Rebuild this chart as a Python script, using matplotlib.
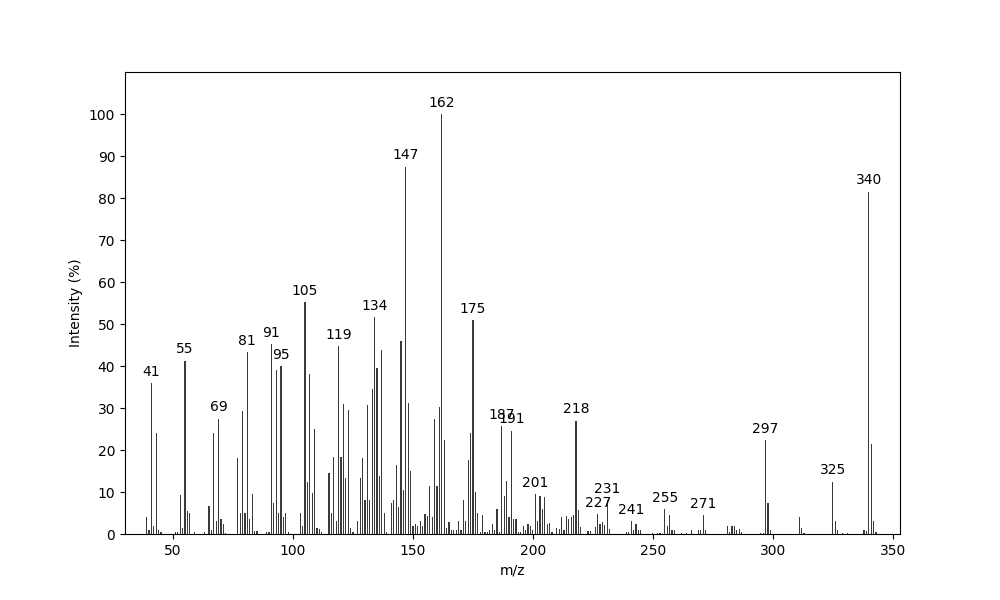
import matplotlib.pyplot as plt

# m/z and relative intensity (%)
mz = [39, 40, 41, 42, 43, 44, 45,
      51, 52, 53, 54, 55, 56, 57, 59, 63, 65, 66, 67, 68, 69, 70, 71, 72,
      77, 78, 79, 80, 81, 82, 83, 84, 85, 89, 90, 91, 92, 93, 94, 95, 96, 97, 98,
      103, 104, 105, 106, 107, 108, 109, 110, 111, 112,
      115, 116, 117, 118, 119, 120, 121, 122, 123, 124, 125,
      127, 128, 129, 130, 131, 132, 133, 134, 135, 136, 137, 138, 139,
      141, 142, 143, 144, 145, 146, 147, 148, 149, 150,
      151, 152, 153, 154, 155, 156, 157, 158, 159, 160, 161, 162, 163, 164,
      165, 166, 167, 168, 169, 170, 171, 172, 173, 174, 175, 176, 177, 178,
      179, 180, 181, 182, 183, 184, 185, 186, 187, 188, 189, 190, 191, 192, 193, 194,
      195, 196, 197, 198, 199, 200, 201, 202, 203, 204, 205, 206, 207, 208,
      210, 211, 212, 213, 214, 215, 216, 217, 218, 219, 220,
      223, 224, 226, 227, 228, 229, 230, 231, 232,
      239, 240, 241, 242, 243, 244, 245,
      250, 252, 253, 255, 256, 257, 258, 259,
      262, 264, 266, 269, 270, 271, 272,
      281, 282, 283, 284, 285, 286, 287,
      295, 296, 297, 298, 299,
      311, 312, 313, 325, 326, 327, 329, 331,
      338, 339, 340, 341, 342, 343]
intensity = [4, 1, 36, 2, 24, 1, 0.5,
             0.5, 0.5, 9.3, 1.5, 41.3, 5.5, 5, 0.5, 0.5, 6.7, 1, 24, 3, 27.5, 3.5, 2.5, 0.3,
             18, 5, 29.3, 5, 43.3, 3.5, 9.6, 0.8, 0.8, 0.5, 0.5, 45.3, 7.5, 39, 5, 40, 4, 5, 0.5,
             5, 2, 55.3, 12.5, 38, 9.7, 25, 1.5, 1.2, 0.5,
             14.5, 5, 18.3, 3, 44.8, 18.3, 31, 13.3, 29.6, 1.5, 0.5,
             3, 13.3, 18, 8, 30.6, 8, 34.6, 51.7, 39.5, 13.7, 43.7, 5, 0.5,
             7.5, 8, 16.5, 6.5, 46, 10.5, 87.5, 31.2, 15, 2,
             2.5, 2, 3, 2, 4.8, 4.3, 11.5, 4, 27.5, 11.5, 30.3, 100, 22.3, 1.5,
             2.8, 1, 1, 1, 3, 1, 8.2, 3, 17.7, 24, 51, 10, 5, 0.5,
             4.5, 0.5, 0.5, 1, 2.5, 1, 6, 0.5, 25.7, 9, 12.7, 4, 24.6, 3.5, 3.5, 0.5,
             0.5, 2, 1, 2.5, 2, 1, 9.5, 3, 9, 6, 8.8, 2.5, 2.7, 0.5,
             1.5, 1.2, 4, 1, 4.3, 3.5, 4, 4.5, 27, 5.8, 1.7,
             0.8, 0.8, 1.7, 4.8, 2.5, 2.8, 2.2, 8, 1.1,
             0.5, 0.5, 3, 1, 2.5, 1, 1,
             0.2, 0.3, 0.3, 6, 2, 4.5, 1, 1,
             0.3, 0.3, 1, 1, 1, 4.5, 1,
             2, 0.5, 2, 2, 1, 1.3, 0.5,
             0.3, 0.3, 22.3, 7.3, 1,
             4, 1.5, 0.3, 12.5, 3, 1, 0.3, 0.3,
             1, 0.8, 81.5, 21.5, 3, 0.5]

labeled = [41, 55, 69, 81, 91, 95, 105, 119, 134, 147, 162, 175, 187, 191,
           201, 218, 227, 231, 241, 255, 271, 297, 325, 340]

fig, ax = plt.subplots(figsize=(10, 6), dpi=100)
ax.bar(mz, intensity, width=0.5, color="#3a3a3a")

lookup = dict(zip(mz, intensity))
for m in labeled:
    ax.text(m, lookup[m] + 1, str(m), ha="center", va="bottom", fontsize=10)

ax.set_xlim(30, 353)
ax.set_ylim(0, 110)
ax.set_yticks(range(0, 101, 10))
ax.set_xlabel("m/z")
ax.set_ylabel("Intensity (%)")
fig.savefig("out.png", dpi=100)
